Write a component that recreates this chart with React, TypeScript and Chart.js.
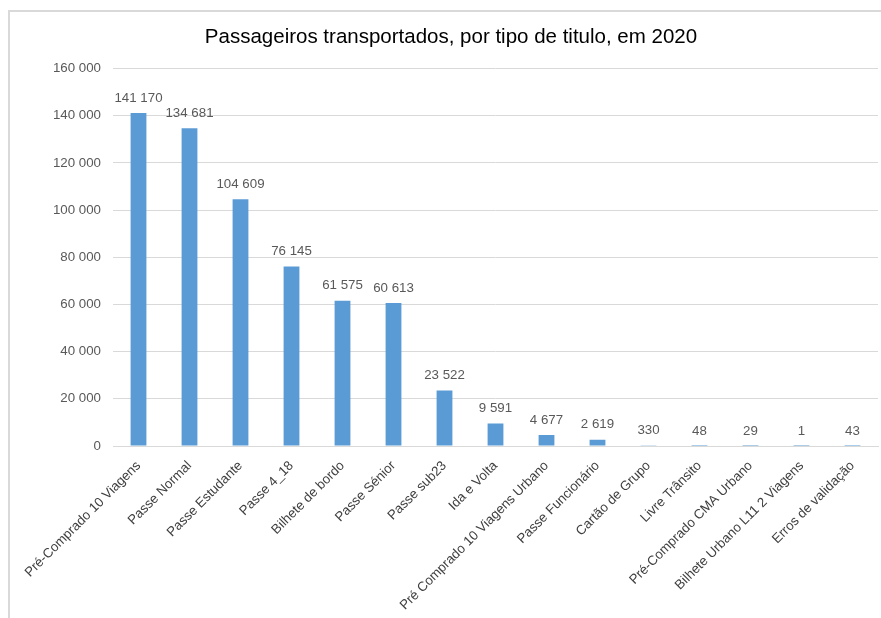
import React, { useEffect, useRef } from "react";
import { Chart, registerables } from "chart.js";

Chart.register(...registerables);

const TITLE = "Passageiros transportados, por tipo de titulo, em 2020";

const categories: string[] = [
  "Pré-Comprado 10 Viagens",
  "Passe Normal",
  "Passe Estudante",
  "Passe 4_18",
  "Bilhete de bordo",
  "Passe Sénior",
  "Passe sub23",
  "Ida e Volta",
  "Pré Comprado 10 Viagens Urbano",
  "Passe Funcionário",
  "Cartão de Grupo",
  "Livre Trânsito",
  "Pré-Comprado CMA Urbano",
  "Bilhete Urbano L11 2 Viagens",
  "Erros de validação",
];

const passengers: number[] = [
  141170, 134681, 104609, 76145, 61575, 60613, 23522, 9591, 4677, 2619, 330, 48, 29, 1, 43,
];

const yMin = 0;
const yMax = 160000;
const yStep = 20000;

const FONT = "'Liberation Sans', Arial, sans-serif";

function fmt(n: number): string {
  return Math.round(n).toString().replace(/\B(?=(\d{3})+(?!\d))/g, " ");
}

const valueLabels = {
  id: "valueLabels",
  afterDatasetsDraw(chart: any) {
    const ctx = chart.ctx;
    const meta = chart.getDatasetMeta(0);
    const data = chart.data.datasets[0].data as number[];
    ctx.save();
    ctx.font = `13.3px ${FONT}`;
    ctx.fillStyle = "#595959";
    ctx.textAlign = "center";
    ctx.textBaseline = "middle";
    meta.data.forEach((bar: any, i: number) => {
      ctx.fillText(fmt(data[i]), bar.x, bar.y - 15);
    });
    ctx.restore();
  },
};

export default function App() {
  const canvasRef = useRef<HTMLCanvasElement | null>(null);

  useEffect(() => {
    if (!canvasRef.current) return;
    const chart = new Chart(canvasRef.current, {
      type: "bar",
      data: {
        labels: categories,
        datasets: [
          {
            data: passengers,
            backgroundColor: "#5b9bd5",
            borderWidth: 0,
            categoryPercentage: 1,
            barPercentage: 0.31,
          },
        ],
      },
      options: {
        responsive: false,
        animation: false,
        devicePixelRatio: 1,
        layout: { padding: { left: 24, right: 3, top: 0, bottom: 0 } },
        plugins: {
          legend: { display: false },
          tooltip: { enabled: false },
          title: {
            display: true,
            text: TITLE,
            color: "#000000",
            font: { family: FONT, size: 20.5, weight: "normal" },
            padding: { top: 25, bottom: 19 },
          },
        },
        scales: {
          x: {
            grid: { display: false },
            border: { display: true, color: "#d9d9d9", width: 1 },
            ticks: {
              autoSkip: false,
              maxRotation: 45,
              minRotation: 45,
              color: "#404040",
              font: { family: FONT, size: 13.3 },
              padding: 4,
            },
            afterFit(scale: any) {
              scale.height = 172;
            },
          },
          y: {
            min: yMin,
            max: yMax,
            ticks: {
              stepSize: yStep,
              color: "#595959",
              font: { family: FONT, size: 13.3 },
              padding: 12,
              callback: (v: any) => fmt(Number(v)),
            },
            grid: { color: "#d9d9d9", drawTicks: false, lineWidth: 1 },
            border: { display: false },
            afterFit(scale: any) {
              scale.width = 89;
            },
          },
        },
      },
      plugins: [valueLabels],
    });
    return () => chart.destroy();
  }, []);

  return (
    <div style={{ position: "fixed", left: 0, top: 0, width: 881, height: 618, background: "#ffffff", overflow: "hidden" }}>
      <div
        style={{
          position: "absolute",
          left: 8,
          top: 10,
          width: 900,
          height: 700,
          borderLeft: "2px solid #d9d9d9",
          borderTop: "2px solid #d9d9d9",
        }}
      />
      <canvas ref={canvasRef} width={881} height={618} style={{ position: "absolute", left: 0, top: 0 }} />
    </div>
  );
}
